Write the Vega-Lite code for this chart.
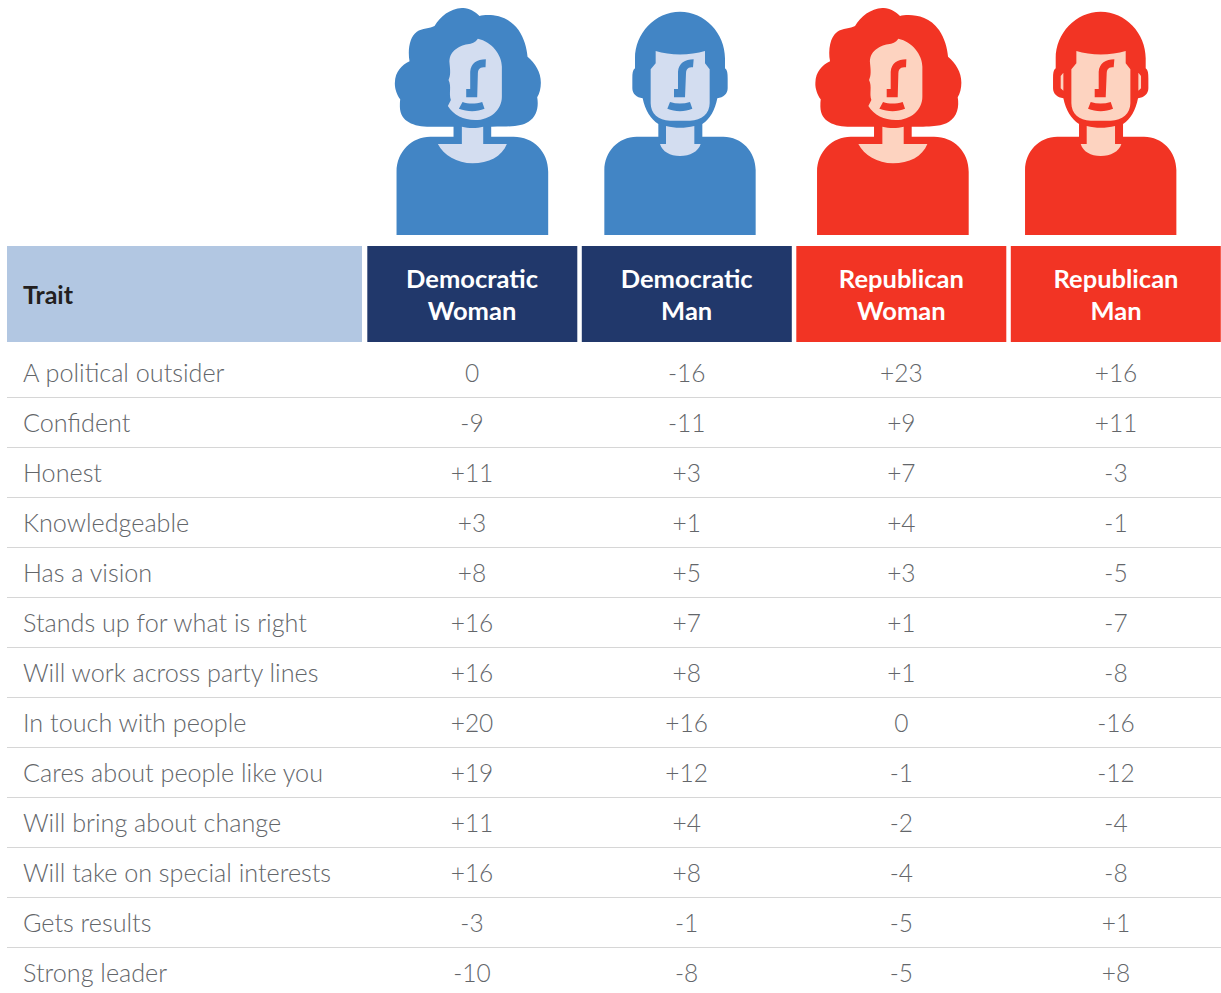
{"$schema":"https://vega.github.io/schema/vega-lite/v6.json","width":1221,"height":993,"padding":0,"autosize":{"type":"none"},"background":"#ffffff","view":{"stroke":null},
"config":{"axis":{"disable":true},"text":{"font":"Lato"}},
"datasets":{
"heads":[{"column":"Democratic Woman","label":"Democratic\nWoman","party":"Democratic"},{"column":"Democratic Man","label":"Democratic\nMan","party":"Democratic"},{"column":"Republican Woman","label":"Republican\nWoman","party":"Republican"},{"column":"Republican Man","label":"Republican\nMan","party":"Republican"}],
"women":[{"column":"Democratic Woman","party":"Democratic"},{"column":"Republican Woman","party":"Republican"}],
"men":[{"column":"Democratic Man","party":"Democratic"},{"column":"Republican Man","party":"Republican"}],
"traitHead":[{"column":"Trait","label":"Trait"}],
"table":[
{"trait":"A political outsider","Democratic Woman":"0","Democratic Man":"-16","Republican Woman":"+23","Republican Man":"+16"},
{"trait":"Confident","Democratic Woman":"-9","Democratic Man":"-11","Republican Woman":"+9","Republican Man":"+11"},
{"trait":"Honest","Democratic Woman":"+11","Democratic Man":"+3","Republican Woman":"+7","Republican Man":"-3"},
{"trait":"Knowledgeable","Democratic Woman":"+3","Democratic Man":"+1","Republican Woman":"+4","Republican Man":"-1"},
{"trait":"Has a vision","Democratic Woman":"+8","Democratic Man":"+5","Republican Woman":"+3","Republican Man":"-5"},
{"trait":"Stands up for what is right","Democratic Woman":"+16","Democratic Man":"+7","Republican Woman":"+1","Republican Man":"-7"},
{"trait":"Will work across party lines","Democratic Woman":"+16","Democratic Man":"+8","Republican Woman":"+1","Republican Man":"-8"},
{"trait":"In touch with people","Democratic Woman":"+20","Democratic Man":"+16","Republican Woman":"0","Republican Man":"-16"},
{"trait":"Cares about people like you","Democratic Woman":"+19","Democratic Man":"+12","Republican Woman":"-1","Republican Man":"-12"},
{"trait":"Will bring about change","Democratic Woman":"+11","Democratic Man":"+4","Republican Woman":"-2","Republican Man":"-4"},
{"trait":"Will take on special interests","Democratic Woman":"+16","Democratic Man":"+8","Republican Woman":"-4","Republican Man":"-8"},
{"trait":"Gets results","Democratic Woman":"-3","Democratic Man":"-1","Republican Woman":"-5","Republican Man":"+1"},
{"trait":"Strong leader","Democratic Woman":"-10","Democratic Man":"-8","Republican Woman":"-5","Republican Man":"+8"}
]},
"resolve":{"scale":{"x":"independent","y":"independent","color":"independent"}},
"layer":[
{"data":{"name":"table"},"transform":[{"filter":"datum.trait !== 'Strong leader'"}],"mark":{"type":"rule","stroke":"#d6d6d6","strokeWidth":1},
 "encoding":{"y":{"field":"trait","type":"nominal","sort":null,"axis":null,"scale":{"type":"point","padding":0,"range":[397.5,947.5]}},
 "x":{"datum":"Trait","type":"nominal","axis":null,"scale":{"type":"point","padding":0,"domain":["Trait","End"],"range":[7,1221]}},"x2":{"datum":"End"}}},
{"data":{"name":"traitHead"},"mark":{"type":"rect","width":355,"height":96,"fill":"#b2c7e2"},
 "encoding":{"x":{"field":"column","type":"nominal","axis":null,"scale":{"type":"point","range":[184.5,184.5]}},"y":{"field":"column","type":"nominal","axis":null,"scale":{"type":"point","range":[294,294]}}}},
{"data":{"name":"traitHead"},"mark":{"type":"text","align":"left","baseline":"middle","fontSize":25,"fontWeight":700,"fill":"#231f20","font":"Lato"},
 "encoding":{"text":{"field":"label"},"x":{"field":"column","type":"nominal","axis":null,"scale":{"type":"point","range":[23,23]}},"y":{"field":"column","type":"nominal","axis":null,"scale":{"type":"point","range":[296,296]}}}},
{"data":{"name":"heads"},"mark":{"type":"rect","width":210,"height":96},
 "encoding":{"x":{"field":"column","type":"nominal","sort":null,"axis":null,"scale":{"type":"point","padding":0,"range":[472.3,1115.8]}},"y":{"datum":"h","type":"nominal","axis":null,"scale":{"type":"point","range":[294,294]}},
 "fill":{"field":"party","type":"nominal","legend":null,"scale":{"domain":["Democratic","Republican"],"range":["#21386b","#f23424"]}}}},
{"data":{"name":"heads"},"mark":{"type":"text","align":"center","baseline":"middle","fontSize":25.5,"fontWeight":700,"fill":"#ffffff","font":"Lato","lineBreak":"\n","lineHeight":32},
 "encoding":{"text":{"field":"label"},"x":{"field":"column","type":"nominal","sort":null,"axis":null,"scale":{"type":"point","padding":0,"range":[472,1116]}},"y":{"datum":"h","type":"nominal","axis":null,"scale":{"type":"point","range":[280,280]}}}},
{"data":{"name":"table"},"mark":{"type":"text","align":"left","baseline":"middle","fontSize":25.2,"fontWeight":300,"fill":"#63666a","font":"Lato"},
 "encoding":{"text":{"field":"trait"},"x":{"datum":"t","type":"nominal","axis":null,"scale":{"type":"point","range":[23,23]}},"y":{"field":"trait","type":"nominal","sort":null,"axis":null,"scale":{"type":"point","padding":0,"range":[374,974]}}}},
{"data":{"name":"table"},"transform":[{"fold":["Democratic Woman","Democratic Man","Republican Woman","Republican Man"],"as":["column","shift"]}],"mark":{"type":"text","align":"center","baseline":"middle","fontSize":24.5,"fontWeight":300,"fill":"#63666a","font":"Lato"},
 "encoding":{"text":{"field":"shift"},"x":{"field":"column","type":"nominal","sort":["Democratic Woman","Democratic Man","Republican Woman","Republican Man"],"axis":null,"scale":{"type":"point","padding":0,"range":[472,1116]}},"y":{"field":"trait","type":"nominal","sort":null,"axis":null,"scale":{"type":"point","padding":0,"range":[375,975]}}}},
{"data":{"name":"women"},"mark":{"type":"point","filled":true,"opacity":1,"size":0.4444,"shape":"M -31 24 C -11 22 9 35 22 48 C 44 42 104 40 139 90 C 156 115 164 145 166 170 C 189 190 206 215 206 248 C 206 265 202 280 195 292 C 200 320 194 350 169 365 C 149 378 124 380 59 380 L 57 380 L 57 410 L 124 410 C 184 410 228 455 228 515 L 228 705 L -227 705 L -227 515 C -227 455 -181 410 -126 410 L -56 410 L -56 380 L -126 380 C -176 380 -216 365 -217 320 C -217 312 -217 305 -216 298 C -226 285 -233 265 -232 248 C -231 215 -211 195 -188 184 C -194 150 -188 110 -166 95 C -151 85 -126 85 -113 78 C -96 50 -66 25 -31 24 Z"},
 "encoding":{"x":{"field":"column","type":"nominal","sort":null,"axis":null,"scale":{"type":"point","padding":0,"range":[472.2,892.7]}},"y":{"datum":"i","type":"nominal","axis":null,"scale":{"type":"point","range":[0,0]}},"color":{"field":"party","type":"nominal","legend":null,"scale":{"domain":["Democratic","Republican"],"range":["#4285c5","#f23424"]}}}},
{"data":{"name":"women"},"mark":{"type":"point","filled":true,"opacity":1,"size":0.4444,"shape":"M 17 116 C 59 125 89 165 89 200 L 89 290 C 89 330 54 360 9 360 C -26 360 -56 345 -73 318 L -64 300 C -71 280 -61 260 -71 240 C -64 225 -66 210 -68 190 C -71 155 -41 138 -14 133 C -1 130 9 128 17 116 Z M -31 380 C -11 385 14 385 33 380 L 33 432 L 104 432 C 89 470 49 490 1 490 C -46 490 -86 465 -103 432 L -31 432 Z"},
 "encoding":{"x":{"field":"column","type":"nominal","sort":null,"axis":null,"scale":{"type":"point","padding":0,"range":[472.2,892.7]}},"y":{"datum":"i","type":"nominal","axis":null,"scale":{"type":"point","range":[0,0]}},"color":{"field":"party","type":"nominal","legend":null,"scale":{"domain":["Democratic","Republican"],"range":["#d3ddf0","#fdd3c0"]}}}},
{"data":{"name":"women"},"mark":{"type":"point","filled":true,"opacity":1,"size":0.4444,"shape":"M 41 178 L 40 202 C 24 202 18 205 17 220 L 15 292 L -18 292 L -18 267 L -6 267 L -6 215 C -4 190 14 178 41 178 Z M -29 306 C -11 312 9 312 30 306 L 37 326 C 14 336 -14 336 -40 326 Z"},
 "encoding":{"x":{"field":"column","type":"nominal","sort":null,"axis":null,"scale":{"type":"point","padding":0,"range":[472.2,892.7]}},"y":{"datum":"i","type":"nominal","axis":null,"scale":{"type":"point","range":[0,0]}},"color":{"field":"party","type":"nominal","legend":null,"scale":{"domain":["Democratic","Republican"],"range":["#4285c5","#f23424"]}}}},
{"data":{"name":"men"},"mark":{"type":"point","filled":true,"opacity":1,"size":0.4444,"shape":"M 0 35 C 75 35 135 100 135 175 L 135 205 C 142 210 143 220 143 235 L 143 265 C 143 282 130 293 112 295 C 105 330 90 358 67 372 L 67 410 L 130 410 C 185 410 227 455 227 510 L 227 705 L -227 705 L -227 510 C -227 455 -185 410 -130 410 L -65 410 L -65 372 C -88 358 -105 330 -112 295 C -130 293 -143 282 -143 265 L -143 235 C -143 220 -142 210 -135 205 L -135 175 C -135 100 -75 35 0 35 Z"},
 "encoding":{"x":{"field":"column","type":"nominal","sort":null,"axis":null,"scale":{"type":"point","padding":0,"range":[680,1100.7]}},"y":{"datum":"i","type":"nominal","axis":null,"scale":{"type":"point","range":[0,0]}},"color":{"field":"party","type":"nominal","legend":null,"scale":{"domain":["Democratic","Republican"],"range":["#4285c5","#f23424"]}}}},
{"data":{"name":"men"},"mark":{"type":"point","filled":true,"opacity":1,"size":0.4444,"shape":"M -73 153 C -30 167 30 167 75 153 L 75 190 L 89 208 L 89 310 C 89 340 65 362 30 362 L -30 362 C -65 362 -88 340 -88 310 L -88 208 L -73 190 Z M -42 378 C -15 385 15 385 43 378 L 43 432 L 62 432 C 55 455 30 468 0 468 C -30 468 -53 455 -60 432 L -42 432 Z"},
 "encoding":{"x":{"field":"column","type":"nominal","sort":null,"axis":null,"scale":{"type":"point","padding":0,"range":[680,1100.7]}},"y":{"datum":"i","type":"nominal","axis":null,"scale":{"type":"point","range":[0,0]}},"color":{"field":"party","type":"nominal","legend":null,"scale":{"domain":["Democratic","Republican"],"range":["#d3ddf0","#fdd3c0"]}}}},
{"data":{"name":"men"},"mark":{"type":"point","filled":true,"opacity":1,"size":0.4444,"shape":"M 41 178 L 39 202 C 25 202 19 205 18 220 L 15 292 L -18 292 L -18 267 L -6 267 L -6 215 C -4 190 15 178 41 178 Z M -30 306 C -10 312 10 312 30 306 L 37 326 C 15 336 -15 336 -38 326 Z"},
 "encoding":{"x":{"field":"column","type":"nominal","sort":null,"axis":null,"scale":{"type":"point","padding":0,"range":[680,1100.7]}},"y":{"datum":"i","type":"nominal","axis":null,"scale":{"type":"point","range":[0,0]}},"color":{"field":"party","type":"nominal","legend":null,"scale":{"domain":["Democratic","Republican"],"range":["#4285c5","#f23424"]}}}},
{"data":{"name":"men"},"transform":[{"filter":"datum.party === 'Republican'"}],"mark":{"type":"point","filled":true,"opacity":1,"size":0.4444,"color":"#fdd3c0","shape":"M -120 228 L -112 218 L -112 272 L -120 265 Z M 113 218 L 121 228 L 121 265 L 113 272 Z"},
 "encoding":{"x":{"field":"column","type":"nominal","axis":null,"scale":{"type":"point","range":[1100.7,1100.7]}},"y":{"datum":"i","type":"nominal","axis":null,"scale":{"type":"point","range":[0,0]}}}}
]}
